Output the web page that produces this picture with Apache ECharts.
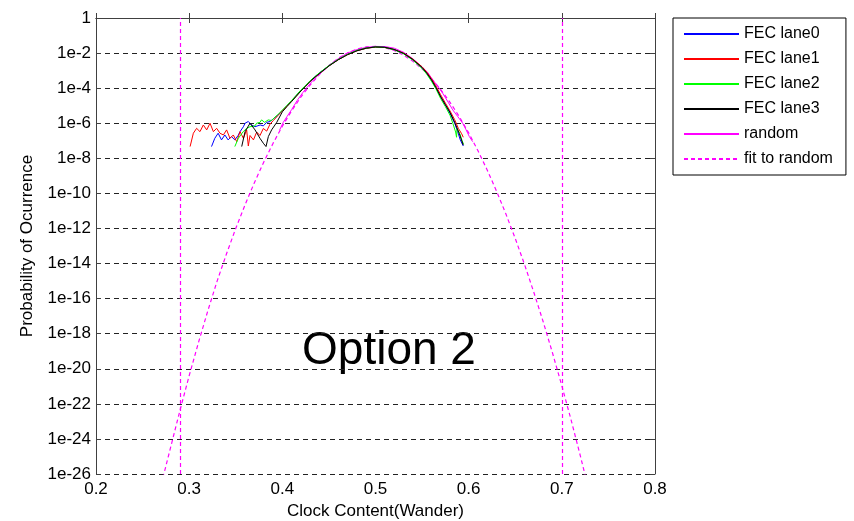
<!DOCTYPE html>
<html>
<head>
<meta charset="utf-8">
<script src="https://cdn.jsdelivr.net/npm/echarts@6/dist/echarts.min.js"></script>
<style>
  html, body { margin: 0; padding: 0; background: #fff; }
  #chart { width: 854px; height: 521px; }
</style>
</head>
<body>
<div id="chart"></div>
<script>
// values are [x, log10(probability)]
const lane0 = [[0.324,-7.33],[0.3275,-6.86],[0.3311,-6.57],[0.3347,-6.95],[0.3383,-6.67],[0.3418,-6.95],[0.3454,-6.76],[0.349,-6.95],[0.3525,-6.7],[0.3546,-6.48],[0.3582,-6.2],[0.36,-6.0],[0.3635,-5.9],[0.367,-6.1],[0.3706,-6.2],[0.3725,-6.29],[0.3762,-6.1],[0.3796,-6.15],[0.3832,-5.95],[0.3868,-5.9],[0.3903,-5.75],[0.395,-5.55],[0.40,-5.28],[0.405,-5.0],[0.41,-4.72],[0.415,-4.42],[0.42,-4.12],[0.425,-3.86],[0.43,-3.58],[0.435,-3.35],[0.44,-3.12],[0.45,-2.72],[0.46,-2.37],[0.47,-2.08],[0.48,-1.86],[0.49,-1.72],[0.50,-1.65],[0.51,-1.67],[0.52,-1.8],[0.53,-2.02],[0.54,-2.37],[0.55,-2.82],[0.555,-3.12],[0.56,-3.5],[0.565,-3.95],[0.57,-4.48],[0.575,-4.95],[0.58,-5.45],[0.585,-6.0],[0.588,-6.45],[0.591,-6.95],[0.5942,-7.3]];
const lane1 = [[0.301,-7.33],[0.3045,-6.57],[0.308,-6.29],[0.3116,-6.48],[0.3152,-6.1],[0.3188,-6.38],[0.3224,-6.0],[0.326,-6.48],[0.3295,-6.29],[0.3331,-6.57],[0.3367,-6.67],[0.3402,-6.38],[0.3438,-6.86],[0.3474,-6.67],[0.351,-7.05],[0.3546,-6.48],[0.3582,-6.86],[0.3617,-6.38],[0.3635,-7.3],[0.3653,-6.7],[0.369,-6.95],[0.3725,-6.5],[0.376,-6.7],[0.3796,-6.3],[0.3832,-6.45],[0.3868,-6.05],[0.3903,-5.85],[0.395,-5.58],[0.40,-5.3],[0.405,-5.02],[0.41,-4.74],[0.415,-4.45],[0.42,-4.15],[0.425,-3.88],[0.43,-3.6],[0.435,-3.37],[0.44,-3.15],[0.45,-2.73],[0.46,-2.38],[0.47,-2.09],[0.48,-1.87],[0.49,-1.73],[0.50,-1.66],[0.51,-1.68],[0.52,-1.8],[0.53,-2.0],[0.54,-2.34],[0.55,-2.78],[0.555,-3.08],[0.56,-3.45],[0.565,-3.88],[0.57,-4.38],[0.575,-4.85],[0.58,-5.3],[0.585,-5.8],[0.589,-6.3],[0.5925,-6.6],[0.5942,-6.8]];
const lane2 = [[0.349,-7.33],[0.3528,-6.86],[0.3563,-6.6],[0.358,-6.48],[0.3617,-6.29],[0.3653,-6.2],[0.367,-6.1],[0.3706,-6.15],[0.3724,-6.0],[0.376,-5.95],[0.3777,-5.81],[0.381,-5.95],[0.3848,-5.81],[0.3885,-5.85],[0.391,-5.7],[0.395,-5.52],[0.40,-5.25],[0.405,-4.98],[0.41,-4.7],[0.415,-4.4],[0.42,-4.1],[0.425,-3.84],[0.43,-3.57],[0.435,-3.34],[0.44,-3.12],[0.45,-2.71],[0.46,-2.36],[0.47,-2.07],[0.48,-1.85],[0.49,-1.71],[0.50,-1.65],[0.51,-1.68],[0.52,-1.81],[0.53,-2.04],[0.54,-2.4],[0.55,-2.88],[0.555,-3.2],[0.56,-3.6],[0.565,-4.05],[0.57,-4.6],[0.575,-5.05],[0.58,-5.55],[0.583,-6.0],[0.586,-6.5],[0.587,-6.8],[0.5875,-6.3],[0.5905,-6.6],[0.593,-7.0],[0.5945,-7.2]];
const lane3 = [[0.3564,-7.33],[0.36,-6.48],[0.3653,-6.0],[0.3707,-6.38],[0.376,-6.86],[0.3796,-7.14],[0.3825,-7.33],[0.385,-6.76],[0.3885,-6.38],[0.394,-5.95],[0.40,-5.35],[0.405,-5.05],[0.41,-4.76],[0.415,-4.46],[0.42,-4.16],[0.425,-3.89],[0.43,-3.61],[0.435,-3.38],[0.44,-3.16],[0.45,-2.74],[0.46,-2.38],[0.47,-2.09],[0.48,-1.87],[0.49,-1.72],[0.50,-1.65],[0.51,-1.67],[0.52,-1.79],[0.53,-2.01],[0.54,-2.36],[0.55,-2.82],[0.555,-3.14],[0.56,-3.52],[0.565,-3.98],[0.57,-4.5],[0.575,-4.95],[0.58,-5.38],[0.585,-5.95],[0.59,-6.6],[0.5942,-7.25]];
const randomData = [[0.397,-6.4],[0.401,-5.95],[0.405,-5.62],[0.41,-5.22],[0.416,-4.7],[0.422,-4.25],[0.427,-3.92],[0.433,-3.55],[0.44,-3.18],[0.448,-2.8],[0.455,-2.5],[0.463,-2.22],[0.47,-2.0],[0.48,-1.8],[0.49,-1.67],[0.50,-1.62],[0.51,-1.63],[0.52,-1.72],[0.53,-1.95],[0.54,-2.32],[0.55,-2.8],[0.556,-3.1],[0.5614,-3.53],[0.567,-3.9],[0.5721,-4.29],[0.578,-4.8],[0.5829,-5.24],[0.588,-5.6],[0.5936,-6.0],[0.597,-6.35],[0.6007,-6.76],[0.6043,-7.05]];
const fitRandom = [[0.27,-26.6],[0.28,-24.5],[0.29,-22.4],[0.30,-20.4],[0.31,-18.5],[0.32,-16.7],[0.33,-15.0],[0.34,-13.46],[0.35,-12.0],[0.36,-10.65],[0.37,-9.39],[0.38,-8.22],[0.39,-7.15],[0.40,-6.17],[0.41,-5.29],[0.42,-4.5],[0.43,-3.81],[0.44,-3.21],[0.45,-2.71],[0.46,-2.3],[0.47,-1.99],[0.48,-1.77],[0.49,-1.65],[0.50,-1.62],[0.51,-1.69],[0.52,-1.85],[0.53,-2.11],[0.54,-2.46],[0.55,-2.9],[0.56,-3.44],[0.57,-4.08],[0.58,-4.81],[0.59,-5.63],[0.60,-6.55],[0.61,-7.57],[0.62,-8.68],[0.63,-9.88],[0.64,-11.18],[0.65,-12.57],[0.66,-14.06],[0.67,-15.65],[0.68,-17.32],[0.69,-19.1],[0.70,-20.97],[0.71,-22.93],[0.72,-24.99],[0.73,-27.14]];
const limitX = [0.2935, 0.703];
const legendNames = ['FEC lane0', 'FEC lane1', 'FEC lane2', 'FEC lane3', 'random', 'fit to random'];

const sans = "'Liberation Sans', Arial, sans-serif";
const axisCol = '#404040';

function laneSeries(name, data, color) {
    return {
        name: name,
        type: 'line',
        data: data,
        symbol: 'none',
        showSymbol: false,
        lineStyle: { color: color, width: 1 },
        itemStyle: { color: color }
    };
}

const chart = echarts.init(document.getElementById('chart'));
chart.setOption({
    animation: false,
    backgroundColor: '#fff',
    grid: { left: 96, right: 199, top: 18, bottom: 47, containLabel: false, outerBoundsMode: 'none' },
    legend: {
        data: legendNames,
        orient: 'vertical',
        left: 673,
        top: 18,
        itemWidth: 55,
        itemHeight: 14,
        itemGap: 9,
        padding: [8, 13, 8, 10],
        borderColor: '#000',
        borderWidth: 1,
        backgroundColor: '#fff',
        itemStyle: { opacity: 0 },
        textStyle: { fontFamily: sans, fontSize: 16, color: '#000' }
    },
    xAxis: [{
        type: 'value', min: 0.2, max: 0.8, interval: 0.1, position: 'bottom',
        name: 'Clock Content(Wander)', nameLocation: 'middle', nameGap: 23,
        nameTextStyle: { fontFamily: sans, fontSize: 17, color: '#000' },
        axisLine: { show: true, lineStyle: { color: axisCol, width: 1 } },
        axisTick: { show: true, inside: true, length: 5, lineStyle: { color: axisCol } },
        axisLabel: { fontFamily: sans, fontSize: 17, color: '#000', margin: 7 },
        splitLine: { show: false }
    }, {
        type: 'value', min: 0.2, max: 0.8, interval: 0.1, position: 'top',
        axisLine: { show: true, lineStyle: { color: axisCol, width: 1 } },
        axisTick: { show: true, inside: true, length: 5, lineStyle: { color: axisCol } },
        axisLabel: { show: false },
        splitLine: { show: false }
    }],
    yAxis: [{
        type: 'value', min: -26, max: 0, interval: 2, position: 'left',
        name: 'Probability of Ocurrence', nameLocation: 'middle', nameGap: 60,
        nameTextStyle: { fontFamily: sans, fontSize: 17, color: '#000' },
        axisLine: { show: true, lineStyle: { color: axisCol, width: 1 } },
        axisTick: { show: true, inside: true, length: 5, lineStyle: { color: axisCol } },
        axisLabel: {
            fontFamily: sans, fontSize: 17, color: '#000', margin: 5,
            formatter: v => (v === 0 ? '1' : '1e' + v)
        },
        splitLine: { show: true, lineStyle: { color: '#222', type: [5, 4], width: 1 } }
    }, {
        type: 'value', min: -26, max: 0, interval: 2, position: 'right',
        axisLine: { show: true, lineStyle: { color: axisCol, width: 1 } },
        axisTick: { show: true, inside: true, length: 5, lineStyle: { color: axisCol } },
        axisLabel: { show: false },
        splitLine: { show: false }
    }],
    graphic: [{
        type: 'text', x: 389, y: 351, silent: true,
        style: {
            text: 'Option 2', fontSize: 46, fontFamily: sans, fill: '#000',
            textAlign: 'center', textVerticalAlign: 'middle'
        }
    }],
    series: [
        {
            name: 'fit to random',
            type: 'line',
            data: fitRandom,
            symbol: 'none',
            showSymbol: false,
            lineStyle: { color: '#ff00ff', width: 1.2, type: [4, 3] },
            itemStyle: { color: '#ff00ff' },
            markLine: {
                silent: true,
                symbol: 'none',
                label: { show: false },
                lineStyle: { color: '#ff00ff', width: 1.2, type: [4, 3] },
                data: limitX.map(v => ({ xAxis: v }))
            }
        },
        laneSeries('random', randomData, '#ff00ff'),
        laneSeries('FEC lane0', lane0, '#0000ff'),
        laneSeries('FEC lane1', lane1, '#ff0000'),
        laneSeries('FEC lane2', lane2, '#00ff00'),
        laneSeries('FEC lane3', lane3, '#000000')
    ]
});
window.addEventListener('resize', () => chart.resize());
</script>
</body>
</html>
